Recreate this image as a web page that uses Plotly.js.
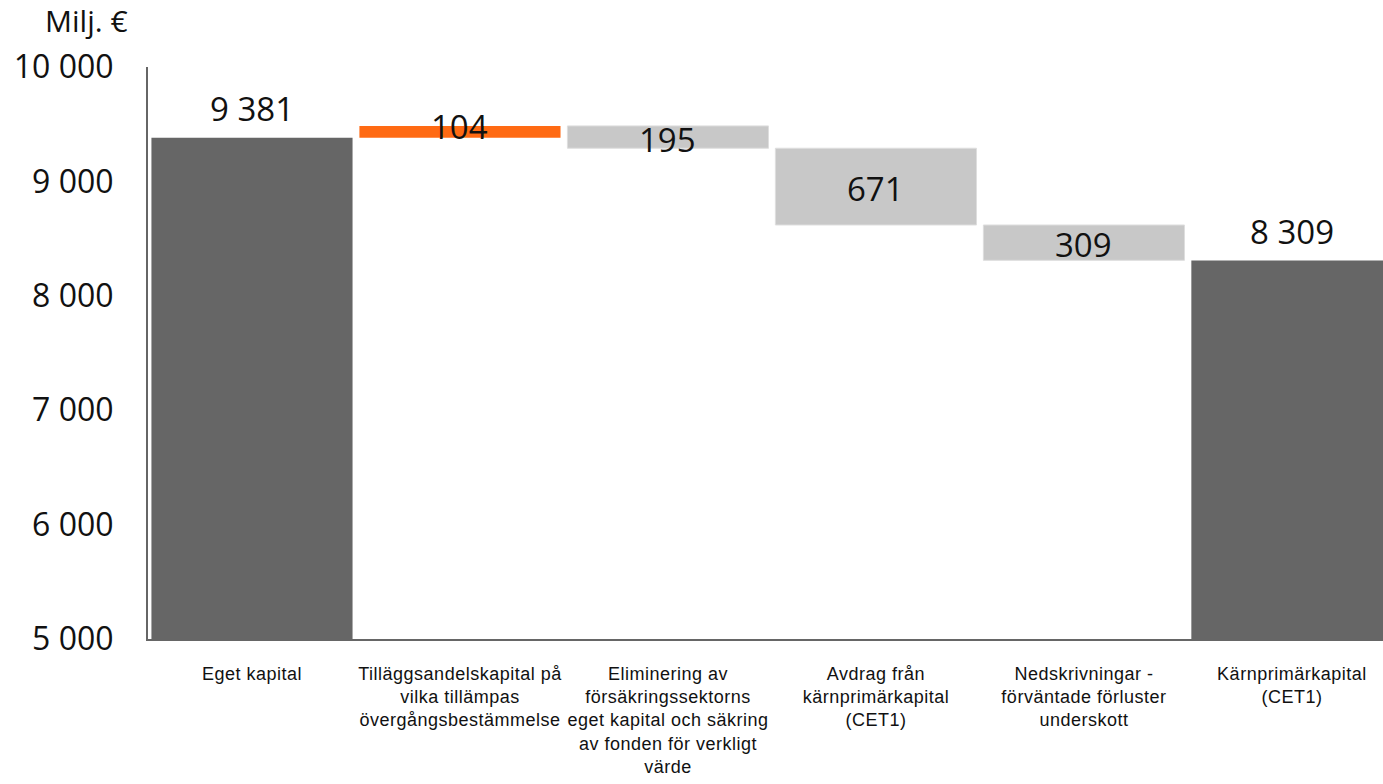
<!DOCTYPE html>
<html>
<head>
<meta charset="utf-8">
<script src="https://cdn.plot.ly/plotly-3.0.1.min.js"></script>
<style>
  html, body { margin: 0; padding: 0; background: #ffffff; }
  #chart { width: 1383px; height: 784px; }
  #chart .xtick text { letter-spacing: 0.5px; }
</style>
</head>
<body>
<div id="chart"></div>
<script>
// ---- Data ----
const categories = [
  "Eget kapital",
  "Tilläggsandelskapital på<br>vilka tillämpas<br>övergångsbestämmelse",
  "Eliminering av<br>försäkringssektorns<br>eget kapital och säkring<br>av fonden för verkligt<br>värde",
  "Avdrag från<br>kärnprimärkapital<br>(CET1)",
  "Nedskrivningar -<br>förväntade förluster<br>underskott",
  "Kärnprimärkapital<br>(CET1)"
];
const measures = ["absolute", "relative", "relative", "relative", "relative", "absolute"];
const values = [9381, 104, -195, -671, -309, 8309];
const valueLabels = ["9 381", "104", "195", "671", "309", "8 309"];
const yTickVals = [5000, 6000, 7000, 8000, 9000, 10000];
const yTickText = ["5 000", "6 000", "7 000", "8 000", "9 000", "10 000"];
const yUnit = "Milj. €";

// ---- Styles ----
const numFont = "'Open Sans', 'Noto Sans', sans-serif";
const catFont = "'Liberation Sans', Arial, sans-serif";
const labelFont = { family: numFont, size: 33, color: "#111111" };

// Compute bar extents for label placement
let running = 0;
const annotations = [];
for (let i = 0; i < values.length; i++) {
  if (measures[i] === "absolute") {
    running = values[i];
    annotations.push({
      x: categories[i], y: values[i], xref: "x", yref: "y",
      text: valueLabels[i], showarrow: false,
      yanchor: "middle", yshift: 29,
      font: labelFont
    });
  } else {
    const start = running;
    running = running + values[i];
    annotations.push({
      x: categories[i], y: (start + running) / 2, xref: "x", yref: "y",
      text: valueLabels[i], showarrow: false,
      yanchor: "middle", yshift: values[i] > 0 ? 5 : -2,
      font: labelFont
    });
  }
}
annotations.push({
  xref: "paper", yref: "paper",
  x: (86 - 148) / 1235, y: 1 + (67 - 20) / 572,
  xanchor: "center", yanchor: "middle",
  text: yUnit, showarrow: false,
  font: { family: numFont, size: 30, color: "#111111" }
});

const trace = {
  type: "waterfall",
  x: categories,
  y: values,
  measure: measures,
  textposition: "none",
  hoverinfo: "skip",
  connector: { visible: false },
  increasing: { marker: { color: "#FF6A13", line: { width: 0 } } },
  decreasing: { marker: { color: "#C8C8C8", line: { color: "#DEDEDE", width: 1 } } },
  totals: { marker: { color: "#666666", line: { width: 0 } } }
};

const layout = {
  width: 1383,
  height: 784,
  margin: { l: 148, r: 0, t: 67, b: 145, pad: 0 },
  paper_bgcolor: "#ffffff",
  plot_bgcolor: "#ffffff",
  showlegend: false,
  waterfallgap: 0.033,
  xaxis: {
    type: "category",
    range: [-0.5, 5.438],
    showgrid: false,
    zeroline: false,
    showline: true,
    linecolor: "#666666",
    linewidth: 2,
    ticks: "",
    ticklabelstandoff: 17,
    tickfont: { family: catFont, size: 18, color: "#111111" },
    fixedrange: true
  },
  yaxis: {
    range: [5000, 10000],
    tickvals: yTickVals,
    ticktext: yTickText,
    showgrid: false,
    zeroline: false,
    showline: true,
    linecolor: "#666666",
    linewidth: 2,
    ticks: "",
    ticklabelstandoff: 26,
    tickfont: { family: numFont, size: 32, color: "#111111" },
    fixedrange: true
  },
  annotations: annotations
};

Plotly.newPlot("chart", [trace], layout, { displayModeBar: false, staticPlot: true });
</script>
</body>
</html>
